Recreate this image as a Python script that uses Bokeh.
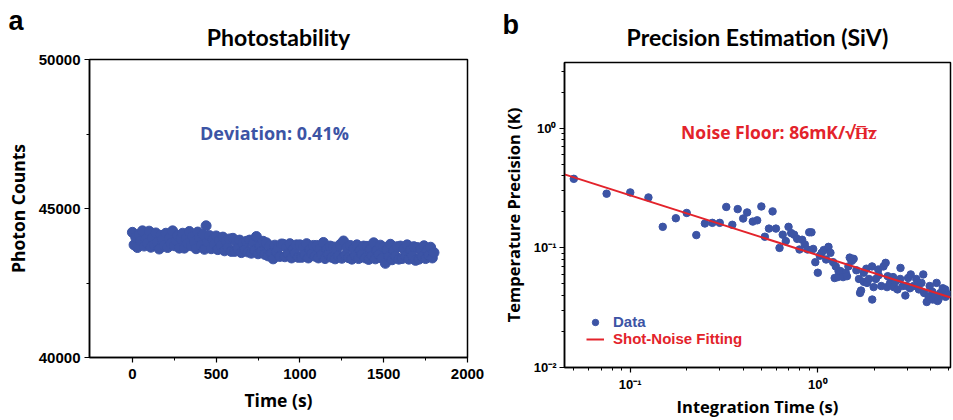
from bokeh.plotting import figure
from bokeh.models import (Range1d, FixedTicker, Label, Legend, LegendItem, CustomJSTickFormatter,
                          Title, LinearAxis, LogAxis)
from bokeh.layouts import row, column
from bokeh.embed import file_html
from bokeh.resources import INLINE

BLUE = "#3c54a5"
RED = "#e3232b"

# ---------------- Panel a: photostability ----------------
time_s = list(range(0, 1810, 10))
counts = [
    44200, 43780, 44030, 43690, 44130, 43910, 44250, 43740, 43970, 43830,
    44240, 43700, 44020, 43780, 44180, 43860, 43640, 44100, 43960, 43760,
    44170, 43690, 44010, 43830, 44250, 43750, 43930, 44090, 43670, 43990,
    44170, 43670, 43990, 43830, 44230, 43750, 44070, 43890, 43650, 44210,
    44030, 43750, 44130, 43630, 44420, 43870, 44090, 43650, 43970, 43790,
    44080, 43620, 43940, 43760, 44040, 43580, 43900, 43680, 43980, 43560,
    44000, 43560, 43880, 43640, 43940, 43520, 43820, 43620, 43900, 43540,
    43940, 43500, 43820, 43600, 44060, 43480, 43740, 43560, 43900, 43460,
    43850, 43410, 43750, 43490, 43310, 43770, 43530, 43670, 43390, 43810,
    43800, 43380, 43700, 43480, 43820, 43340, 43640, 43500, 43780, 43360,
    43780, 43360, 43680, 43440, 43820, 43340, 43620, 43480, 43760, 43400,
    43760, 43340, 43660, 43440, 43860, 43320, 43620, 43460, 43740, 43360,
    43710, 43310, 43650, 43410, 43790, 43330, 43910, 43430, 43690, 43350,
    43760, 43300, 43640, 43420, 43780, 43320, 43600, 43460, 43740, 43340,
    43730, 43290, 43630, 43410, 43850, 43310, 43590, 43450, 43770, 43330,
    43700, 43160, 43620, 43380, 43800, 43280, 43580, 43400, 43720, 43300,
    43740, 43320, 43640, 43400, 43780, 43300, 43600, 43420, 43720, 43260,
    43690, 43300, 43620, 43370, 43750, 43320, 43590, 43420, 43700, 43340,
    43520,
]
a_xticks = [0, 500, 1000, 1500, 2000]
a_xminor = [250, 750, 1250, 1750]
a_yticks = [40000, 45000, 50000]
a_yminor = [42500, 47500]

# ---------------- Panel b: precision estimation ----------------
int_time = [
    0.05, 0.0748, 0.1, 0.125, 0.149, 0.175, 0.2, 0.225, 0.25, 0.274,
    0.30, 0.325, 0.35, 0.374, 0.40, 0.42, 0.45, 0.475, 0.50, 0.522,
    0.549, 0.574, 0.598, 0.625, 0.65, 0.675, 0.698, 0.721, 0.748, 0.776,
    0.799, 0.825, 0.853, 0.881, 0.90, 0.925, 0.945, 0.97, 1.0, 1.025,
    1.05, 1.076, 1.107, 1.14, 1.168, 1.207, 1.23, 1.247, 1.278, 1.29,
    1.32, 1.364, 1.41, 1.43, 1.456, 1.48, 1.504, 1.52, 1.553, 1.605,
    1.658, 1.68, 1.70, 1.757, 1.76, 1.815, 1.83, 1.875, 1.946, 1.95,
    1.985, 2.04, 2.10, 2.11, 2.18, 2.24, 2.30, 2.34, 2.36, 2.43,
    2.52, 2.54, 2.59, 2.66, 2.75, 2.76, 2.84, 2.93, 2.99, 3.03,
    3.10, 3.13, 3.24, 3.35, 3.40, 3.46, 3.57, 3.65, 3.69, 3.81,
    3.90, 3.95, 4.08, 4.10, 4.21, 4.30, 4.35, 4.40, 4.50, 4.64,
    4.78, 4.80, 4.95,
]
precision = [
    0.378, 0.284, 0.291, 0.264, 0.150, 0.177, 0.196, 0.128, 0.160, 0.162,
    0.162, 0.220, 0.156, 0.211, 0.176, 0.198, 0.166, 0.170, 0.222, 0.124,
    0.145, 0.202, 0.145, 0.100, 0.129, 0.114, 0.150, 0.133, 0.129, 0.119,
    0.097, 0.117, 0.107, 0.097, 0.135, 0.135, 0.098, 0.076, 0.062, 0.086,
    0.091, 0.096, 0.080, 0.102, 0.091, 0.076, 0.056, 0.070, 0.057, 0.064,
    0.064, 0.057, 0.062, 0.058, 0.070, 0.083, 0.080, 0.078, 0.081, 0.065,
    0.055, 0.042, 0.044, 0.062, 0.052, 0.067, 0.051, 0.055, 0.070, 0.037,
    0.047, 0.055, 0.066, 0.059, 0.048, 0.070, 0.075, 0.047, 0.058, 0.051,
    0.057, 0.047, 0.052, 0.045, 0.055, 0.068, 0.048, 0.040, 0.048, 0.056,
    0.046, 0.060, 0.048, 0.055, 0.049, 0.045, 0.051, 0.060, 0.042, 0.0353,
    0.039, 0.048, 0.043, 0.037, 0.040, 0.051, 0.036, 0.037, 0.042, 0.046,
    0.045, 0.039, 0.041,
]
fit_time = [0.0446, 5.1]
fit_precision = [0.412, 0.0385]
b_xticks = [0.1, 1]
b_xminor = [0.05, 0.06, 0.07, 0.08, 0.09, 0.2, 0.3, 0.4, 0.5, 0.6, 0.7, 0.8, 0.9, 2, 3, 4, 5]
b_yticks = [0.01, 0.1, 1]
b_yminor = [0.02, 0.03, 0.04, 0.05, 0.06, 0.07, 0.08, 0.09, 0.2, 0.3, 0.4, 0.5, 0.6, 0.7, 0.8, 0.9, 2, 3]

TICK_FONT = "Liberation Sans"
LABEL_FONT = "Open Sans"
TITLE_FONT = "Lato"


def style(p):
    p.outline_line_color = "black"
    p.outline_line_width = 1.5
    p.outline_line_alpha = 1.0
    p.xgrid.visible = False
    p.ygrid.visible = False
    for ax in (p.xaxis[0], p.yaxis[0]):
        ax.axis_line_width = 1.5
        ax.major_tick_out = 5
        ax.major_tick_in = 0
        ax.minor_tick_out = 3
        ax.minor_tick_in = 0
        ax.major_tick_line_width = 1.2
        ax.minor_tick_line_width = 1
        ax.major_label_text_font = TICK_FONT
        ax.major_label_text_font_style = "bold"
        ax.major_label_text_color = "black"
        ax.axis_label_text_font = LABEL_FONT
        ax.axis_label_text_font_style = "bold"
        ax.axis_label_text_color = "black"
    p.background_fill_color = "white"
    p.border_fill_color = "white"


def add_titles(p, axis_cls, main, main_standoff, letter, letter_off, letter_standoff):
    # main title: the label of an empty axis above the frame (centred on the frame)
    top = axis_cls(ticker=FixedTicker(ticks=[]), axis_label=main,
                   axis_label_standoff=main_standoff,
                   axis_label_text_font=TITLE_FONT, axis_label_text_font_style="bold",
                   axis_label_text_font_size="23px", axis_label_text_color="black",
                   axis_line_color=None, major_tick_line_color=None, minor_tick_line_color=None,
                   major_tick_out=0, major_tick_in=0, minor_tick_out=0, minor_tick_in=0,
                   major_label_standoff=0, major_label_text_font_size="0px")
    p.add_layout(top, "above")
    # panel letter
    p.add_layout(Title(text=letter, align="left", offset=letter_off, standoff=letter_standoff,
                       text_font=TICK_FONT, text_font_style="bold", text_font_size="27px",
                       text_color="black"), "above")


pa = figure(output_backend="svg", toolbar_location=None, title=None,
            width=498, height=420,
            min_border_left=89, min_border_right=31, min_border_top=59, min_border_bottom=63,
            x_range=Range1d(-256, 2000), y_range=Range1d(40000, 50000))
pa.scatter(time_s, counts, size=10, color=BLUE)
style(pa)
pa.xaxis.ticker = FixedTicker(ticks=a_xticks, minor_ticks=a_xminor)
pa.yaxis.ticker = FixedTicker(ticks=a_yticks, minor_ticks=a_yminor)
for ax in (pa.xaxis[0], pa.yaxis[0]):
    ax.major_label_text_font_size = "15px"
    ax.axis_label_text_font_size = "17.5px"
pa.xaxis.axis_label = "Time (s)"
pa.yaxis.axis_label = "Photon Counts"
pa.xaxis.major_label_standoff = 6
pa.yaxis.major_label_standoff = 4
pa.xaxis.axis_label_standoff = 6
pa.yaxis.axis_label_standoff = 6
add_titles(pa, LinearAxis, "Photostability", 9, "a", -81, -32)
pa.add_layout(Label(x=848, y=47517, text="Deviation: 0.41%", text_align="center",
                    text_baseline="middle", text_font=LABEL_FONT, text_font_style="bold",
                    text_font_size="18px", text_color=BLUE))

pb = figure(output_backend="svg", toolbar_location=None, title=None,
            width=454, height=420,
            min_border_left=65, min_border_right=2, min_border_top=62, min_border_bottom=52,
            x_axis_type="log", y_axis_type="log",
            x_range=Range1d(0.0446, 5.1), y_range=Range1d(0.01, 3.55))
r_data = pb.scatter(int_time, precision, size=7.5, color=BLUE)
r_fit = pb.line(fit_time, fit_precision, line_color=RED, line_width=2)
style(pb)
fmt = CustomJSTickFormatter(code="""
const e = Math.round(Math.log10(tick));
const sup = {'-':'\u207b','0':'\u2070','1':'\u00b9','2':'\u00b2','3':'\u00b3'};
return '10' + String(e).split('').map(c => sup[c]).join('');
""")
pb.xaxis.ticker = FixedTicker(ticks=b_xticks, minor_ticks=b_xminor)
pb.yaxis.ticker = FixedTicker(ticks=b_yticks, minor_ticks=b_yminor)
pb.xaxis.formatter = fmt
pb.yaxis.formatter = fmt
for ax in (pb.xaxis[0], pb.yaxis[0]):
    ax.major_label_text_font_size = "13px"
    ax.axis_label_text_font_size = "16.5px"
pb.xaxis.axis_label = "Integration Time (s)"
pb.yaxis.axis_label = "Temperature Precision (K)"
pb.xaxis.major_label_standoff = 4
pb.yaxis.major_label_standoff = 3
pb.xaxis.axis_label_standoff = 0
pb.yaxis.axis_label_standoff = 6
add_titles(pb, LogAxis, "Precision Estimation (SiV)", 12, "b", -62, -40)
pb.add_layout(Label(x=0.1866, y=0.927, text="Noise Floor: 86mK/\u221aH\u0305z\u0305", text_align="left",
                    text_baseline="middle", text_font=LABEL_FONT, text_font_style="bold",
                    text_font_size="17.5px", text_color=RED))


def make_legend(label, rend, color, y):
    return Legend(items=[LegendItem(label=label, renderers=[rend])], location=(22, y),
                  background_fill_alpha=0, border_line_alpha=0, padding=0, margin=0,
                  spacing=0, glyph_width=18, glyph_height=16, label_height=16,
                  label_standoff=9, label_text_font=TICK_FONT, label_text_font_style="bold",
                  label_text_font_size="15px", label_text_color=color)


pb.add_layout(make_legend("Data", r_data, BLUE, 37))
pb.add_layout(make_legend("Shot-Noise Fitting", r_fit, RED, 20))

layout = row(column(pa), column(pb))
open("out.html", "w").write(file_html(layout, INLINE))
